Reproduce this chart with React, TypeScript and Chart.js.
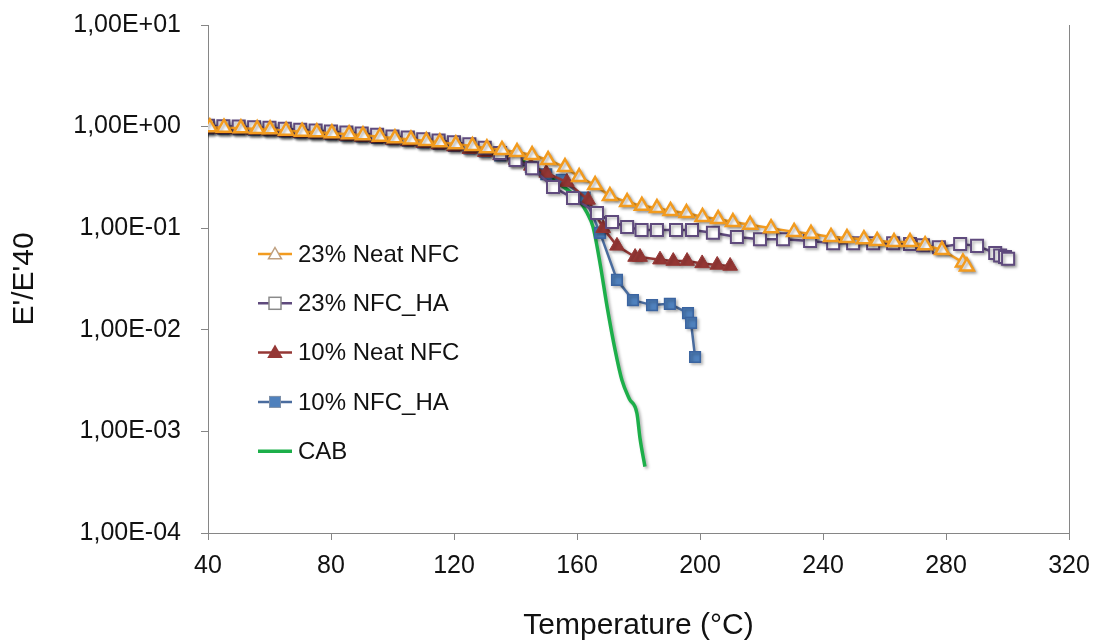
import React, { useEffect, useRef } from 'react';
import { Chart, registerables } from 'chart.js';

Chart.register(...registerables);

// ---- Data ----
const seriesNames = ['23% Neat NFC', '23% NFC_HA', '10% Neat NFC', '10% NFC_HA', 'CAB'];

const neat23Temp = [40.6, 45.2, 50.7, 56, 60.2, 65.4, 70.6, 75.4, 80.3, 85.9, 90.4, 95.9, 100.8, 106, 111, 115.4, 120.6, 126, 130.7, 135.6, 140.5, 145.4, 150.6, 156.1, 160.7, 165.9, 170.7, 176.3, 181.1, 186, 190.4, 195.6, 200.8, 205.9, 210.7, 216.3, 223.1, 230.6, 236.1, 242.6, 247.8, 253.3, 257.6, 263.1, 268.3, 273.2, 278.7, 285.5, 286.8];
const neat23Val = [0.984, 0.975, 0.962, 0.946, 0.94, 0.912, 0.891, 0.879, 0.859, 0.84, 0.82, 0.795, 0.766, 0.748, 0.721, 0.7, 0.669, 0.643, 0.611, 0.589, 0.562, 0.525, 0.469, 0.4, 0.319, 0.266, 0.207, 0.181, 0.166, 0.158, 0.148, 0.141, 0.129, 0.123, 0.115, 0.108, 0.1, 0.092, 0.088, 0.082, 0.08, 0.078, 0.075, 0.073, 0.073, 0.068, 0.061, 0.046, 0.042];

const ha23Temp = [40, 45, 50, 55, 60, 65, 70, 75, 80, 85, 90, 95, 100, 105, 110, 115, 120, 125, 130, 135, 140, 145.4, 152.2, 158.7, 166.5, 171.4, 176.3, 181, 186, 192.2, 197.4, 204.2, 212, 219.5, 227, 235.8, 243.3, 249.8, 256.3, 262.8, 268.3, 272.5, 277.7, 284.6, 290.1, 296, 297.6, 299.2, 300.2];
const ha23Val = [1.02, 1.01, 1.0, 0.985, 0.975, 0.95, 0.93, 0.915, 0.895, 0.875, 0.855, 0.83, 0.8, 0.78, 0.75, 0.73, 0.7, 0.67, 0.62, 0.55, 0.47, 0.39, 0.255, 0.198, 0.141, 0.115, 0.103, 0.096, 0.096, 0.096, 0.096, 0.09, 0.082, 0.078, 0.078, 0.075, 0.071, 0.071, 0.071, 0.071, 0.07, 0.068, 0.065, 0.07, 0.067, 0.057, 0.054, 0.052, 0.05];

const neat10Temp = [40, 45, 50, 55, 60, 65, 70, 75, 80, 85, 90, 95, 100, 105, 110, 115, 120, 125, 130, 135, 140, 145, 150, 156.7, 163.6, 168.5, 173, 178.9, 180.5, 187, 191.3, 195.8, 200.7, 205.6, 209.8];
const neat10Val = [0.95, 0.945, 0.935, 0.92, 0.91, 0.885, 0.865, 0.85, 0.83, 0.81, 0.79, 0.765, 0.74, 0.715, 0.69, 0.665, 0.635, 0.6, 0.56, 0.52, 0.47, 0.41, 0.35, 0.285, 0.19, 0.1, 0.067, 0.052, 0.052, 0.049, 0.0475, 0.0475, 0.045, 0.0435, 0.0425];

const ha10Temp = [40, 45, 50, 55, 60, 65, 70, 75, 80, 85, 90, 95, 100, 105, 110, 115, 120, 125, 130, 135, 140, 145, 150, 155, 162.5, 167.5, 173, 178.2, 184.4, 190.2, 196.1, 197.1, 198.4];
const ha10Val = [0.96, 0.955, 0.945, 0.93, 0.92, 0.895, 0.875, 0.86, 0.84, 0.82, 0.8, 0.775, 0.75, 0.725, 0.7, 0.675, 0.645, 0.61, 0.57, 0.52, 0.46, 0.4, 0.34, 0.3, 0.2, 0.09, 0.031, 0.0196, 0.0175, 0.018, 0.0146, 0.0117, 0.0054];

const cabTemp = [40, 60, 80, 100, 120, 135, 145, 151, 156, 160, 163.3, 165.2, 167.5, 169.8, 172.4, 174.6, 177, 179.5, 180.5, 182.1];
const cabVal = [0.97, 0.9, 0.84, 0.77, 0.66, 0.54, 0.42, 0.32, 0.25, 0.2, 0.141, 0.103, 0.045, 0.0168, 0.0063, 0.0032, 0.0021, 0.0015, 0.00085, 0.00045];

const xTickValues = [40, 80, 120, 160, 200, 240, 280, 320];
const yTickValues = [1e-4, 1e-3, 1e-2, 1e-1, 1, 10];
const yTickLabels = ['1,00E-04', '1,00E-03', '1,00E-02', '1,00E-01', '1,00E+00', '1,00E+01'];

const pts = (t: number[], v: number[]) => t.map((x, i) => ({ x, y: v[i] }));

const FONT = "'Liberation Sans', Arial, Helvetica, sans-serif";
const ORANGE = '#F29B1F';
const PURPLE = '#5F4A7D';
const RED = '#953735';
const BLUE = '#4F81BD';
const BLUE_LINE = '#4A6C9E';
const GREEN = '#1DAF4A';
const AXIS = '#868686';

function triPath(ctx: CanvasRenderingContext2D, x: number, y: number, r: number) {
  ctx.beginPath();
  ctx.moveTo(x, y - r);
  ctx.lineTo(x + r * 0.866, y + r * 0.5);
  ctx.lineTo(x - r * 0.866, y + r * 0.5);
  ctx.closePath();
}

export default function App() {
  const ref = useRef<HTMLCanvasElement>(null);

  useEffect(() => {
    if (!ref.current) return;

    const shadowPlugin = {
      id: 'shadowFx',
      beforeDatasetsDraw(chart: any) {
        const c = chart.ctx;
        c.save();
        c.shadowColor = 'rgba(0,0,0,0.3)';
        c.shadowBlur = 3;
        c.shadowOffsetX = 2;
        c.shadowOffsetY = 2;
      },
      afterDatasetsDraw(chart: any) {
        chart.ctx.restore();
      },
    };

    const framePlugin = {
      id: 'frameRight',
      afterDraw(chart: any) {
        const { ctx, chartArea } = chart;
        ctx.save();
        ctx.strokeStyle = AXIS;
        ctx.lineWidth = 1;
        ctx.beginPath();
        ctx.moveTo(Math.round(chartArea.right) + 0.5, chartArea.top);
        ctx.lineTo(Math.round(chartArea.right) + 0.5, chartArea.bottom);
        ctx.stroke();
        ctx.restore();
      },
    };

    const legendPlugin = {
      id: 'insideLegend',
      afterDraw(chart: any) {
        const { ctx, chartArea } = chart;
        const x0 = chartArea.left + 50;
        const x1 = x0 + 34;
        const xm = (x0 + x1) / 2;
        const yStart = chartArea.top + 229;
        const step = 49.3;
        ctx.save();
        seriesNames.forEach((name, i) => {
          const y = yStart + i * step;
          const ds = chart.data.datasets[i];
          ctx.strokeStyle = ds.borderColor;
          ctx.lineWidth = i === 4 ? 3.5 : 2.5;
          ctx.beginPath();
          ctx.moveTo(x0, y);
          ctx.lineTo(x1, y);
          ctx.stroke();
          if (i === 0) {
            triPath(ctx, xm, y + 1, 7.5);
            ctx.fillStyle = '#fff';
            ctx.fill();
            ctx.strokeStyle = '#BFA080';
            ctx.lineWidth = 1.5;
            ctx.stroke();
          } else if (i === 1) {
            ctx.fillStyle = '#fff';
            ctx.fillRect(xm - 6, y - 6, 12, 12);
            ctx.strokeStyle = '#8A8A8A';
            ctx.lineWidth = 1.5;
            ctx.strokeRect(xm - 6, y - 6, 12, 12);
          } else if (i === 2) {
            triPath(ctx, xm, y + 1, 9);
            ctx.fillStyle = RED;
            ctx.fill();
          } else if (i === 3) {
            ctx.fillStyle = BLUE;
            ctx.fillRect(xm - 5.5, y - 5.5, 11, 11);
            ctx.strokeStyle = '#7D8FA8';
            ctx.lineWidth = 1;
            ctx.strokeRect(xm - 5.5, y - 5.5, 11, 11);
          }
          ctx.fillStyle = '#111';
          ctx.font = `24px ${FONT}`;
          ctx.textAlign = 'left';
          ctx.textBaseline = 'middle';
          ctx.fillText(name, x1 + 6, y + 1);
        });
        ctx.restore();
      },
    };

    const chart = new Chart(ref.current, {
      type: 'line',
      data: {
        datasets: [
          {
            label: seriesNames[0],
            data: pts(neat23Temp, neat23Val),
            borderColor: ORANGE,
            borderWidth: 2.5,
            pointStyle: 'triangle',
            pointRadius: 8,
            pointBackgroundColor: '#ffffff',
            pointBorderColor: ORANGE,
            pointBorderWidth: 2.5,
            tension: 0,
          },
          {
            label: seriesNames[1],
            data: pts(ha23Temp, ha23Val),
            borderColor: PURPLE,
            borderWidth: 2.5,
            pointStyle: 'rect',
            pointRadius: 8.5,
            pointBackgroundColor: '#ffffff',
            pointBorderColor: PURPLE,
            pointBorderWidth: 2,
            tension: 0,
          },
          {
            label: seriesNames[2],
            data: pts(neat10Temp, neat10Val),
            borderColor: RED,
            borderWidth: 2.5,
            pointStyle: 'triangle',
            pointRadius: 8.5,
            pointBackgroundColor: RED,
            pointBorderColor: RED,
            pointBorderWidth: 1,
            tension: 0,
          },
          {
            label: seriesNames[3],
            data: pts(ha10Temp, ha10Val),
            borderColor: BLUE_LINE,
            borderWidth: 2.5,
            pointStyle: 'rect',
            pointRadius: 7.5,
            pointBackgroundColor: BLUE,
            pointBorderColor: '#3B64A0',
            pointBorderWidth: 1.5,
            tension: 0,
          },
          {
            label: seriesNames[4],
            data: pts(cabTemp, cabVal),
            borderColor: GREEN,
            borderWidth: 3.5,
            pointRadius: 0,
            cubicInterpolationMode: 'monotone',
          },
        ],
      },
      options: {
        animation: false,
        responsive: false,
        events: [],
        layout: { padding: { left: 0, right: 28, top: 25, bottom: 0 } },
        plugins: {
          legend: { display: false },
          tooltip: { enabled: false },
        },
        scales: {
          x: {
            type: 'linear',
            min: 40,
            max: 320,
            afterBuildTicks: (scale: any) => {
              scale.ticks = xTickValues.map((v) => ({ value: v }));
            },
            afterFit: (scale: any) => {
              scale.height = 108;
              scale.paddingLeft = 0;
              scale.paddingRight = 0;
            },
            ticks: {
              font: { family: FONT, size: 25 },
              color: '#111',
              padding: 11,
              maxRotation: 0,
            },
            grid: {
              drawOnChartArea: false,
              drawTicks: true,
              tickLength: 7,
              color: AXIS,
            },
            border: { color: AXIS, width: 1 },
            title: {
              display: true,
              text: 'Temperature (°C)',
              font: { family: FONT, size: 30, lineHeight: 1 },
              color: '#111',
              padding: { top: 0, bottom: 0 },
            },
          },
          y: {
            type: 'logarithmic',
            min: 1e-4,
            max: 10,
            afterBuildTicks: (scale: any) => {
              scale.ticks = yTickValues.map((v) => ({ value: v }));
            },
            afterFit: (scale: any) => {
              scale.width = 208;
              scale.paddingTop = 0;
              scale.paddingBottom = 0;
            },
            ticks: {
              font: { family: FONT, size: 25 },
              color: '#111',
              padding: 20,
              callback: (value: any) => {
                const idx = yTickValues.findIndex((v) => Math.abs(Math.log10(v) - Math.log10(Number(value))) < 1e-6);
                return idx >= 0 ? yTickLabels[idx] : '';
              },
            },
            grid: {
              drawOnChartArea: false,
              drawTicks: true,
              tickLength: 7,
              color: AXIS,
            },
            border: { color: AXIS, width: 1 },
            title: {
              display: true,
              text: "E'/E'40",
              font: { family: FONT, size: 30, lineHeight: 1 },
              color: '#111',
              padding: { top: 10, bottom: 0 },
            },
          },
        },
      },
      plugins: [shadowPlugin, framePlugin, legendPlugin],
    } as any);

    return () => {
      chart.destroy();
    };
  }, []);

  return (
    <div style={{ position: 'absolute', left: 0, top: 0, width: 1097, height: 641, background: '#ffffff' }}>
      <canvas ref={ref} width={1097} height={641} style={{ display: 'block' }} />
    </div>
  );
}
